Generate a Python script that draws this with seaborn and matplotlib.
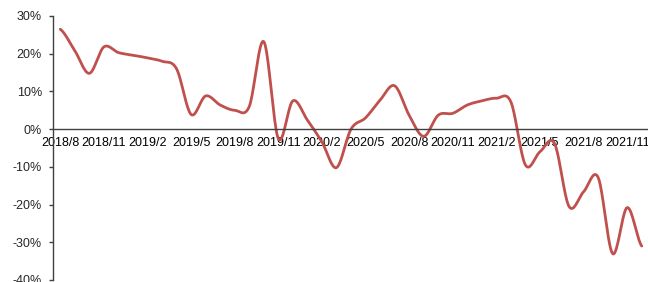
import numpy as np
import pandas as pd
import matplotlib
matplotlib.use("Agg")
import matplotlib.pyplot as plt
import seaborn as sns

# monthly values, 2018/8 .. 2021/12 (%)
months = ["2018/8", "2018/9", "2018/10", "2018/11", "2018/12", "2019/1", "2019/2",
          "2019/3", "2019/4", "2019/5", "2019/6", "2019/7", "2019/8", "2019/9",
          "2019/10", "2019/11", "2019/12", "2020/1", "2020/2", "2020/3", "2020/4",
          "2020/5", "2020/6", "2020/7", "2020/8", "2020/9", "2020/10", "2020/11",
          "2020/12", "2021/1", "2021/2", "2021/3", "2021/4", "2021/5", "2021/6",
          "2021/7", "2021/8", "2021/9", "2021/10", "2021/11", "2021/12"]
values = [26.5, 20.8, 14.8, 21.8, 20.3, 19.6, 18.9,
          18.0, 16.0, 3.9, 8.8, 6.4, 5.0, 6.0,
          23.2, -2.5, 7.5, 2.4, -3.4, -10.2, 0.0,
          3.0, 7.7, 11.5, 3.7, -1.9, 3.7, 4.2,
          6.4, 7.5, 8.2, 7.2, -9.5, -6.0, -3.8,
          -20.5, -16.6, -12.8, -33.0, -20.8, -31.0]
yticks = [30, 20, 10, 0, -10, -20, -30, -40]

# smooth line like Excel (Catmull-Rom through the points)
def smooth(y, n=20):
    p = np.concatenate([[y[0]], y, [y[-1]]])
    xs, ys = [], []
    for i in range(len(y) - 1):
        p0, p1, p2, p3 = p[i], p[i + 1], p[i + 2], p[i + 3]
        t = np.linspace(0, 1, n, endpoint=False)
        c = 0.5 * ((2 * p1) + (-p0 + p2) * t + (2 * p0 - 5 * p1 + 4 * p2 - p3) * t ** 2
                   + (-p0 + 3 * p1 - 3 * p2 + p3) * t ** 3)
        xs.extend(i + t)
        ys.extend(c)
    xs.append(len(y) - 1)
    ys.append(y[-1])
    return np.array(xs), np.array(ys)

sx, sy = smooth(np.array(values, dtype=float))
df = pd.DataFrame({"x": sx, "y": sy})

sns.set_style("white")
plt.rcParams['font.family'] = ['Liberation Sans', 'DejaVu Sans']

fig = plt.figure(figsize=(6.48, 2.82), dpi=100)
ax = fig.add_axes([53 / 648, 2 / 282, 596 / 648, 264 / 282])
sns.lineplot(data=df, x="x", y="y", ax=ax, color="#C0504D", linewidth=2.0,
             sort=False, estimator=None)

ax.set_xlim(-0.5, len(months) - 0.5)
ax.set_ylim(-40, 30)
ax.set_xlabel("")
ax.set_ylabel("")

for s in ["top", "right"]:
    ax.spines[s].set_visible(False)
ax.spines["bottom"].set_position(("data", 0))
for s in ["left", "bottom"]:
    ax.spines[s].set_color("#404040")
    ax.spines[s].set_linewidth(1.0)

ax.set_yticks(yticks)
ax.set_yticklabels([f"{v}%" for v in yticks])
idx = list(range(0, len(months), 3))
ax.set_xticks(idx)
ax.set_xticklabels([months[i] for i in idx])
ax.set_xticks([i - 0.5 for i in idx], minor=True)
ax.tick_params(axis="x", which="major", length=0, pad=5.5, labelsize=9, colors="black")
ax.tick_params(axis="x", which="minor", length=3, width=1, color="#404040", direction="out")
ax.tick_params(axis="y", length=3, width=1, color="#404040", direction="out",
               pad=5, labelsize=9, left=True)

fig.savefig("out.png", dpi=100)
